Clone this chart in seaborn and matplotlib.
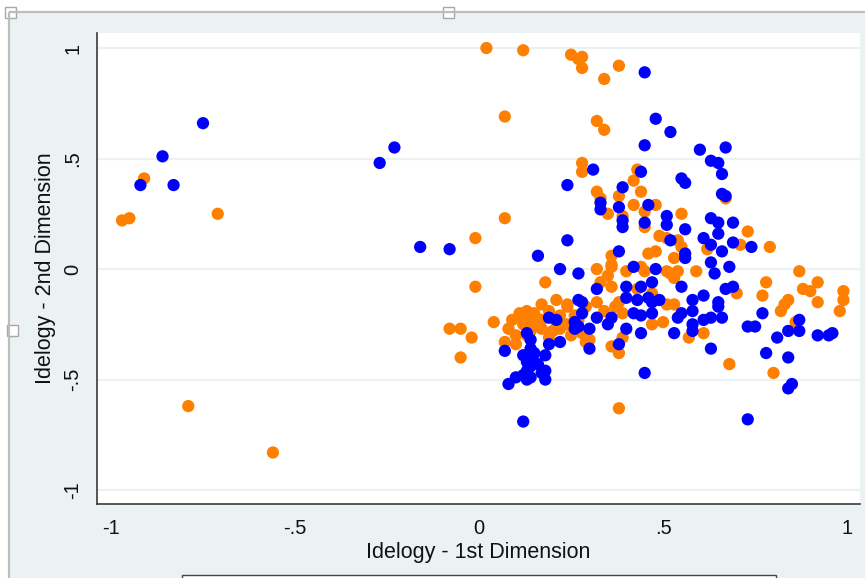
import matplotlib
matplotlib.use("Agg")
import matplotlib.pyplot as plt
from matplotlib import font_manager
from matplotlib.patches import Rectangle
import seaborn as sns
import pandas as pd

# ---------------- data ----------------
orange_x = [-0.97, -0.95, -0.91, -0.71, -0.79, -0.56,
            0.02, 0.12, 0.25, 0.27, 0.28, 0.28, 0.34, 0.38,
            0.07, 0.32, 0.34, 0.28, 0.28, 0.43, 0.42,
            0.32, 0.33, 0.44, 0.38, 0.35, 0.39, 0.42, 0.45, 0.48, 0.55, 0.67,
            0.45, 0.73, 0.49, 0.51, 0.54, 0.55, 0.71, 0.79, 0.62,
            0.46, 0.48, 0.53, 0.36, 0.36, 0.32, 0.59, 0.40, 0.44, 0.45, 0.51, 0.54, 0.53,
            0.35, 0.33, 0.36, 0.43,
            0.87, 0.78, 0.92, 0.88, 0.90, 0.99, 0.77, 0.99, 0.70, 0.84, 0.92, 0.82, 0.83, 0.98, 0.86,
            0.80, 0.68, 0.61, 0.57, 0.50, 0.47, 0.51, 0.53, 0.52,
            0.39, 0.39, 0.36, 0.38, 0.38,
            0.32, 0.34, 0.38, 0.36, 0.29, 0.37,
            0.30, 0.28, 0.25, 0.26, 0.24, 0.24, 0.21, 0.20, 0.19, 0.17, 0.17, 0.15, 0.14, 0.12,
            0.12, 0.10, 0.09, 0.08, 0.07, 0.04,
            -0.02, -0.05, -0.08, -0.05, -0.01, -0.01, 0.07, 0.18, 0.24,
            0.13, 0.17, 0.19, 0.14, 0.10, 0.22, 0.27, 0.29, 0.21, 0.47,
            0.11, 0.16, 0.20, 0.22, 0.13]
orange_y = [0.22, 0.23, 0.41, 0.25, -0.62, -0.83,
            1.00, 0.99, 0.97, 0.95, 0.96, 0.91, 0.86, 0.92,
            0.69, 0.67, 0.63, 0.48, 0.44, 0.45, 0.40,
            0.35, 0.32, 0.35, 0.33, 0.25, 0.24, 0.29, 0.26, 0.29, 0.25, 0.32,
            0.19, 0.17, 0.15, 0.14, 0.13, 0.10, 0.11, 0.10, 0.09,
            0.07, 0.08, 0.05, 0.06, 0.02, 0.00, -0.01, -0.01, 0.01, -0.01, -0.01, -0.01, -0.04,
            -0.03, -0.06, -0.08, -0.09,
            -0.01, -0.06, -0.06, -0.09, -0.10, -0.10, -0.12, -0.14, -0.11, -0.14, -0.15, -0.19, -0.16, -0.19, -0.24,
            -0.47, -0.43, -0.29, -0.31, -0.24, -0.25, -0.16, -0.16, -0.02,
            -0.20, -0.31, -0.35, -0.38, -0.63,
            -0.15, -0.19, -0.15, 0.01, -0.17, -0.17,
            -0.32, -0.29, -0.30, -0.21, -0.25, -0.17, -0.24, -0.28, -0.31, -0.27, -0.16, -0.20, -0.24, -0.22,
            -0.25, -0.30, -0.23, -0.27, -0.33, -0.24,
            -0.31, -0.27, -0.27, -0.40, -0.08, 0.14, 0.23, -0.06, -0.16,
            -0.19, -0.23, -0.19, -0.28, -0.34, -0.21, -0.23, -0.33, -0.14, -0.11,
            -0.20, -0.25, -0.22, -0.27, -0.30]

blue_x = [-0.92, -0.86, -0.83, -0.75, -0.27, -0.23, -0.16, -0.08,
          0.45, 0.48, 0.52, 0.45, 0.60, 0.67, 0.63, 0.65, 0.66,
          0.31, 0.24, 0.44, 0.55, 0.56, 0.39, 0.33, 0.33, 0.38, 0.46, 0.66, 0.67,
          0.51, 0.51, 0.39, 0.39, 0.45, 0.56, 0.63, 0.65, 0.69, 0.65, 0.61, 0.63,
          0.24, 0.52, 0.56, 0.56, 0.69, 0.74, 0.66, 0.38, 0.63, 0.68, 0.64, 0.48, 0.42,
          0.16, 0.22, 0.27, 0.40, 0.47, 0.44, 0.55, 0.67, 0.69, 0.61, 0.40, 0.46, 0.49, 0.58,
          0.65, 0.43, 0.32, 0.27, 0.28,
          0.77, 0.87, 0.84, 0.87, 0.92, 0.95, 0.96, 0.81, 0.73, 0.75, 0.78, 0.84, 0.84, 0.85, 0.73,
          0.63, 0.53, 0.58, 0.58, 0.61, 0.63, 0.66, 0.65, 0.58, 0.55, 0.54, 0.47, 0.42, 0.44,
          0.40, 0.44, 0.38, 0.45, 0.47,
          0.26, 0.26, 0.27, 0.28, 0.30, 0.32, 0.35, 0.36, 0.30,
          0.19, 0.21, 0.22, 0.19, 0.13, 0.14, 0.07, 0.12, 0.15, 0.18, 0.13, 0.15, 0.16, 0.13,
          0.12, 0.18, 0.14, 0.13, 0.10, 0.18, 0.08, 0.12, 0.14, 0.17, 0.14]
blue_y = [0.38, 0.51, 0.38, 0.66, 0.48, 0.55, 0.10, 0.09,
          0.89, 0.68, 0.62, 0.56, 0.54, 0.55, 0.49, 0.48, 0.43,
          0.45, 0.38, 0.44, 0.41, 0.39, 0.37, 0.30, 0.27, 0.28, 0.29, 0.34, 0.33,
          0.24, 0.20, 0.22, 0.19, 0.21, 0.18, 0.23, 0.21, 0.21, 0.16, 0.14, 0.11,
          0.13, 0.13, 0.07, 0.05, 0.12, 0.10, 0.08, 0.08, 0.03, 0.01, -0.02, 0.00, 0.01,
          0.06, 0.00, -0.02, -0.08, -0.06, -0.08, -0.08, -0.09, -0.08, -0.12, -0.13, -0.13, -0.14, -0.14,
          -0.15, -0.14, -0.09, -0.14, -0.15,
          -0.20, -0.23, -0.28, -0.28, -0.30, -0.30, -0.29, -0.31, -0.26, -0.26, -0.38, -0.40, -0.54, -0.52, -0.68,
          -0.36, -0.29, -0.28, -0.25, -0.23, -0.22, -0.22, -0.17, -0.19, -0.20, -0.22, -0.20, -0.20, -0.21,
          -0.27, -0.29, -0.34, -0.47, -0.15,
          -0.24, -0.27, -0.26, -0.20, -0.27, -0.22, -0.25, -0.22, -0.36,
          -0.22, -0.23, -0.33, -0.34, -0.29, -0.32, -0.37, -0.39, -0.38, -0.39, -0.42, -0.42, -0.43, -0.46,
          -0.48, -0.46, -0.49, -0.50, -0.49, -0.50, -0.52, -0.69, -0.44, -0.47, -0.36]

group_names = ["Group A", "Group B"]
group_colors = ["#FF7F00", "#0000FF"]

x_ticks = [-1, -0.5, 0, 0.5, 1]
x_tick_labels = ["-1", "-.5", "0", ".5", "1"]
y_ticks = [-1, -0.5, 0, 0.5, 1]
y_tick_labels = ["-1", "-.5", "0", ".5", "1"]
x_label = "Idelogy - 1st Dimension"
y_label = "Idelogy - 2nd Dimension"

df = pd.DataFrame({
    "x": orange_x + blue_x,
    "y": orange_y + blue_y,
    "group": [group_names[0]] * len(orange_x) + [group_names[1]] * len(blue_x),
})

# ---------------- style ----------------
sns.set_style("white")
available = {f.name for f in font_manager.fontManager.ttflist}
fam = [f for f in ["Liberation Sans Narrow", "Liberation Sans", "DejaVu Sans"] if f in available]
plt.rcParams["font.family"] = fam

W, H = 865, 578
fig = plt.figure(figsize=(W / 100, H / 100), dpi=100)
fig.patch.set_facecolor("white")

# background (window frame) in pixel coordinates
bg = fig.add_axes([0, 0, 1, 1], zorder=0)
bg.set_xlim(0, W)
bg.set_ylim(H, 0)
bg.axis("off")
bg.add_patch(Rectangle((9, 12), W - 9, H - 12, facecolor="#EAF2F3", edgecolor="none"))
bg.plot([9, W], [12, 12], color="#BDBDBD", lw=1.6, solid_capstyle="butt")
bg.plot([9, 9], [12, H], color="#BDBDBD", lw=1.6, solid_capstyle="butt")
for cx, cy in [(448, 12), (12, 330), (10, 12)]:
    bg.add_patch(Rectangle((cx - 5.5, cy - 5.5), 11, 11, facecolor="white",
                           edgecolor="#A8A8A8", lw=1.0))
bg.add_patch(Rectangle((182, 575), 594, 20, facecolor="white", edgecolor="#444444", lw=1.0))

# main plot
left, right, top, bottom = 97, 860, 33, 504
ax = fig.add_axes([left / W, 1 - bottom / H, (right - left) / W, (bottom - top) / H], zorder=1)
ax.set_facecolor("white")

sns.scatterplot(data=df, x="x", y="y", hue="group", hue_order=group_names,
                palette=dict(zip(group_names, group_colors)), s=78, linewidth=0,
                alpha=1, legend=False, ax=ax, zorder=3)

ax.set_xlim(-1.038, 1.035)
ax.set_ylim(-1.063, 1.068)
ax.set_xticks(x_ticks)
ax.set_xticklabels(x_tick_labels)
ax.set_yticks(y_ticks)
ax.set_yticklabels(y_tick_labels, rotation=90, va="center")
ax.yaxis.grid(True, color="#EAF2F3", lw=1.6, zorder=0)
ax.xaxis.grid(False)
ax.set_axisbelow(True)

for s in ["top", "right"]:
    ax.spines[s].set_visible(False)
for s in ["left", "bottom"]:
    ax.spines[s].set_color("#3A3A3A")
    ax.spines[s].set_linewidth(1.2)

ax.tick_params(axis="both", which="major", direction="out", length=6.5, width=1.0,
               color="#3A3A3A", labelsize=14.5, labelcolor="#111111", pad=4)
ax.set_xlabel(x_label, fontsize=15.5, color="#111111", labelpad=3)
ax.set_ylabel(y_label, fontsize=15.5, color="#111111", labelpad=5)

fig.savefig("out.png", dpi=100, facecolor=fig.get_facecolor())
